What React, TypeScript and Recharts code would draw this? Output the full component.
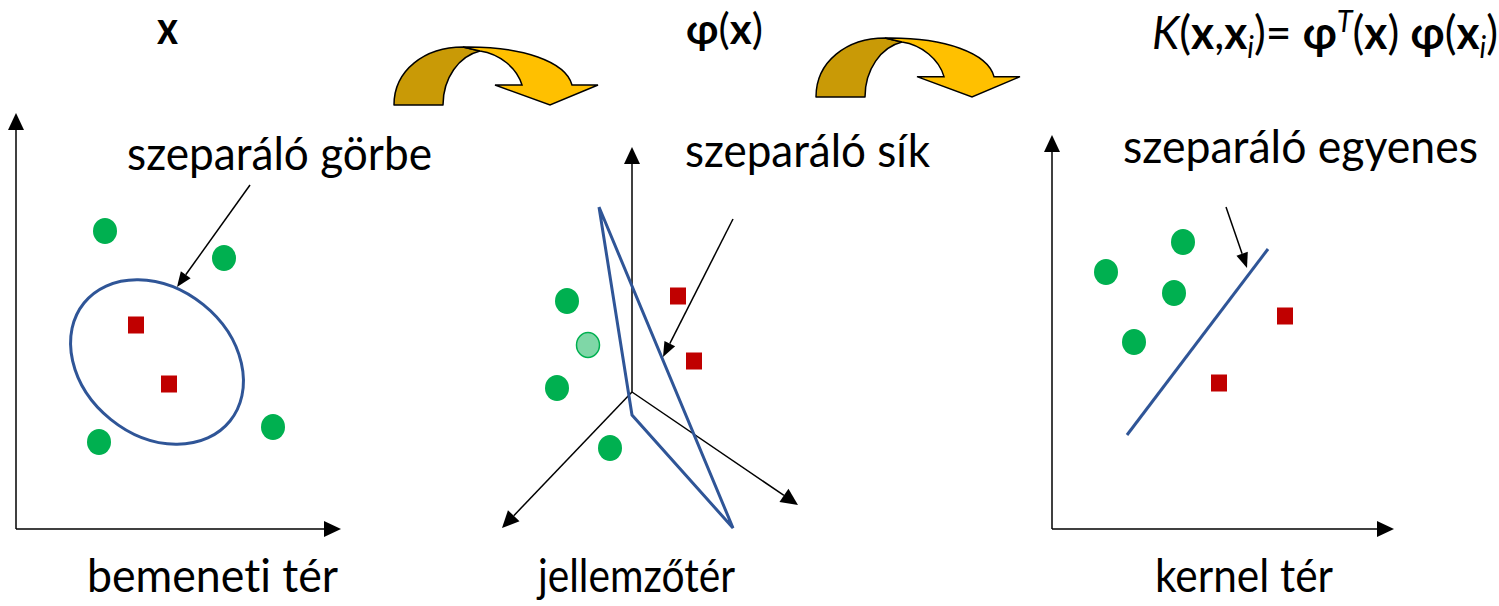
import React from 'react';
import { ComposedChart, XAxis, YAxis, Scatter, ReferenceLine, ReferenceDot, ReferenceArea } from 'recharts';

const WIDTH = 1499;
const HEIGHT = 606;

// bemeneti tér (input space)
const inputCircles = [{ x: 105, y: 231 }, { x: 224, y: 258 }, { x: 99, y: 442 }, { x: 273, y: 427 }];
const inputSquares = [{ x: 136, y: 325 }, { x: 169, y: 384 }];
// separating ellipse: ends of its major axis + minor/major ratio
const inputCurveAxis = [{ x: 84, y: 303 }, { x: 230, y: 421 }];
const inputCurveRatio = 0.785;

// jellemzőtér (feature space)
const featureCircles = [{ x: 567, y: 301 }, { x: 557, y: 388 }, { x: 610, y: 448 }];
const featureFadedCircles = [{ x: 588, y: 345 }];
const featureSquares = [{ x: 678, y: 296 }, { x: 694, y: 361 }];
const featurePlane = [{ x: 599, y: 207 }, { x: 632, y: 415 }, { x: 733, y: 528 }, { x: 599, y: 207 }];
const featureOrigin = { x: 632, y: 392 };
const featureAxisEnds = [{ x: 632, y: 147 }, { x: 502, y: 528 }, { x: 798, y: 505 }];

// kernel tér
const kernelCircles = [{ x: 1183, y: 242 }, { x: 1106, y: 272 }, { x: 1174, y: 293 }, { x: 1134, y: 342 }];
const kernelSquares = [{ x: 1285, y: 316 }, { x: 1219, y: 383 }];
const kernelLine = [{ x: 1127, y: 435 }, { x: 1268, y: 249 }];

// 2D axes: [origin, y tip, x tip]
const plainAxes = [
  [{ x: 16, y: 529 }, { x: 16, y: 113 }, { x: 341, y: 529 }],
  [{ x: 1052, y: 529 }, { x: 1052, y: 135 }, { x: 1394, y: 529 }],
];

// pointer arrows to the separators
const pointers = [
  [{ x: 250, y: 185 }, { x: 177, y: 287 }],
  [{ x: 733, y: 219 }, { x: 663, y: 357 }],
  [{ x: 1226, y: 207 }, { x: 1247, y: 268 }],
];

// yellow transform arrows (bounding boxes)
const transformArrows = [
  { x1: 393, x2: 599, y1: 46, y2: 106 },
  { x1: 815, x2: 1021, y1: 37, y2: 98 },
];

const spaceNames = ['bemeneti tér', 'jellemzőtér', 'kernel tér'];
const separatorNames = ['szeparáló görbe', 'szeparáló sík', 'szeparáló egyenes'];

const spaceNamePos = [
  { x: 87, y: 592, w: 251 },
  { x: 538, y: 592, w: 197 },
  { x: 1155, y: 592, w: 178 },
];
const separatorPos = [
  { x: 127, y: 170, w: 305 },
  { x: 685, y: 167, w: 245 },
  { x: 1123, y: 163, w: 355 },
];

const FONT = 'Lato, "Open Sans", sans-serif';
const GREEN = '#00B050';
const RED = '#C00000';
const BLUE = '#2F5597';

const greenDot = (p: any) => <ellipse cx={p.cx} cy={p.cy} rx={12} ry={13} fill={GREEN} />;
const fadedDot = (p: any) => (
  <ellipse cx={p.cx} cy={p.cy} rx={11.5} ry={12.5} fill="#7FD7A7" stroke={GREEN} strokeWidth={1.5} />
);
const redSquare = (p: any) => <rect x={p.cx - 8} y={p.cy - 8.5} width={16} height={17} fill={RED} />;
const noDot = () => <g />;

const arrowShape = (head: number, half: number) => (p: any) => {
  const { x1, y1, x2, y2 } = p;
  const len = Math.hypot(x2 - x1, y2 - y1) || 1;
  const ux = (x2 - x1) / len;
  const uy = (y2 - y1) / len;
  const bx = x2 - ux * head;
  const by = y2 - uy * head;
  return (
    <g>
      <line x1={x1} y1={y1} x2={bx} y2={by} stroke="#000" strokeWidth={1.5} />
      <polygon
        points={`${x2},${y2} ${bx - uy * half},${by + ux * half} ${bx + uy * half},${by - ux * half}`}
        fill="#000"
      />
    </g>
  );
};
const axisArrow = arrowShape(17, 8);
const pointerArrow = arrowShape(15, 6);

const ellipseShape = (p: any) => {
  const { x1, y1, x2, y2 } = p;
  const cx = (x1 + x2) / 2;
  const cy = (y1 + y2) / 2;
  const a = Math.hypot(x2 - x1, y2 - y1) / 2;
  const angle = (Math.atan2(y2 - y1, x2 - x1) * 180) / Math.PI;
  return (
    <ellipse
      cx={cx}
      cy={cy}
      rx={a}
      ry={a * inputCurveRatio}
      transform={`rotate(${angle} ${cx} ${cy})`}
      fill="none"
      stroke={BLUE}
      strokeWidth={3}
    />
  );
};

// curved arrow drawn in a 206 x 60 local box
const curvedArrow = (p: any) => {
  const { x, y, width, height } = p;
  return (
    <g transform={`translate(${x} ${y}) scale(${width / 206} ${height / 60})`}>
      <path
        d="M 1 59 C 1 24 32 1 70 1 L 87 5 C 66 10 50 32 50 59 Z"
        fill="#C99A06"
        stroke="#000"
        strokeWidth={1.5}
        vectorEffect="non-scaling-stroke"
        strokeLinejoin="round"
      />
      <path
        d="M 70 1 C 130 0 173 16 179 39 L 205 39 L 157 59 L 102 39 L 129 39 C 124 22 107 8 87 5 Z"
        fill="#FFC000"
        stroke="#000"
        strokeWidth={1.5}
        vectorEffect="non-scaling-stroke"
        strokeLinejoin="miter"
      />
    </g>
  );
};

const textAt = (content: React.ReactNode, w: number | undefined, extra: any = {}) => (p: any) => (
  <text
    x={p.cx}
    y={p.cy}
    fontFamily={FONT}
    fontSize={46}
    fill="#000"
    textLength={w}
    lengthAdjust={w ? 'spacingAndGlyphs' : undefined}
    style={{ fontVariantLigatures: 'none', fontFeatureSettings: '"liga" 0, "clig" 0' }}
    {...extra}
  >
    {content}
  </text>
);

const formula = (
  <>
    <tspan fontStyle="italic">K</tspan>
    <tspan>(</tspan>
    <tspan fontWeight="bold">x</tspan>
    <tspan>,</tspan>
    <tspan fontWeight="bold">x</tspan>
    <tspan fontStyle="italic" fontSize={30} dy={9}>i</tspan>
    <tspan dy={-9}>)= </tspan>
    <tspan fontWeight="bold">φ</tspan>
    <tspan fontStyle="italic" fontSize={30} dy={-17}>T</tspan>
    <tspan dy={17}>(</tspan>
    <tspan fontWeight="bold">x</tspan>
    <tspan>) </tspan>
    <tspan fontWeight="bold">φ</tspan>
    <tspan>(</tspan>
    <tspan fontWeight="bold">x</tspan>
    <tspan fontStyle="italic" fontSize={30} dy={9}>i</tspan>
    <tspan dy={-9}>)</tspan>
  </>
);

export default function App() {
  return (
    <div style={{ position: 'absolute', left: 0, top: 0, background: '#fff' }}>
      <ComposedChart width={WIDTH} height={HEIGHT} margin={{ top: 0, right: 0, bottom: 0, left: 0 }}>
        <XAxis type="number" dataKey="x" domain={[0, WIDTH]} allowDataOverflow hide />
        <YAxis type="number" dataKey="y" domain={[0, HEIGHT]} allowDataOverflow reversed hide />

        {transformArrows.map((b, i) => (
          <ReferenceArea key={`ta${i}`} x1={b.x1} x2={b.x2} y1={b.y1} y2={b.y2} shape={curvedArrow} ifOverflow="visible" />
        ))}

        {plainAxes.map((ax, i) => (
          <React.Fragment key={`ax${i}`}>
            <ReferenceLine segment={[ax[0], ax[1]]} shape={axisArrow} ifOverflow="visible" />
            <ReferenceLine segment={[ax[0], ax[2]]} shape={axisArrow} ifOverflow="visible" />
          </React.Fragment>
        ))}
        {featureAxisEnds.map((end, i) => (
          <ReferenceLine key={`fa${i}`} segment={[featureOrigin, end]} shape={axisArrow} ifOverflow="visible" />
        ))}

        <ReferenceLine segment={[inputCurveAxis[0], inputCurveAxis[1]]} shape={ellipseShape} ifOverflow="visible" />
        <Scatter data={featurePlane} shape={noDot} line={{ stroke: BLUE, strokeWidth: 3 }} isAnimationActive={false} />
        <Scatter data={kernelLine} shape={noDot} line={{ stroke: BLUE, strokeWidth: 3 }} isAnimationActive={false} />

        {pointers.map((pt, i) => (
          <ReferenceLine key={`pt${i}`} segment={[pt[0], pt[1]]} shape={pointerArrow} ifOverflow="visible" />
        ))}

        <Scatter data={inputCircles} shape={greenDot} isAnimationActive={false} />
        <Scatter data={featureCircles} shape={greenDot} isAnimationActive={false} />
        <Scatter data={featureFadedCircles} shape={fadedDot} isAnimationActive={false} />
        <Scatter data={kernelCircles} shape={greenDot} isAnimationActive={false} />
        <Scatter data={inputSquares} shape={redSquare} isAnimationActive={false} />
        <Scatter data={featureSquares} shape={redSquare} isAnimationActive={false} />
        <Scatter data={kernelSquares} shape={redSquare} isAnimationActive={false} />

        {separatorNames.map((name, i) => (
          <ReferenceDot key={`sn${i}`} x={separatorPos[i].x} y={separatorPos[i].y} ifOverflow="visible" shape={textAt(name, separatorPos[i].w)} />
        ))}
        {spaceNames.map((name, i) => (
          <ReferenceDot key={`sp${i}`} x={spaceNamePos[i].x} y={spaceNamePos[i].y} ifOverflow="visible" shape={textAt(name, spaceNamePos[i].w)} />
        ))}

        <ReferenceDot x={157} y={44} ifOverflow="visible" shape={textAt('x', 21, { fontWeight: 'bold' })} />
        <ReferenceDot
          x={686}
          y={44}
          ifOverflow="visible"
          shape={textAt(
            <>
              <tspan fontWeight="bold">φ</tspan>
              <tspan>(</tspan>
              <tspan fontWeight="bold">x</tspan>
              <tspan>)</tspan>
            </>,
            undefined,
            { fontSize: 42 },
          )}
        />
        <ReferenceDot x={1152} y={49} ifOverflow="visible" shape={textAt(formula, 346)} />
      </ComposedChart>
    </div>
  );
}
